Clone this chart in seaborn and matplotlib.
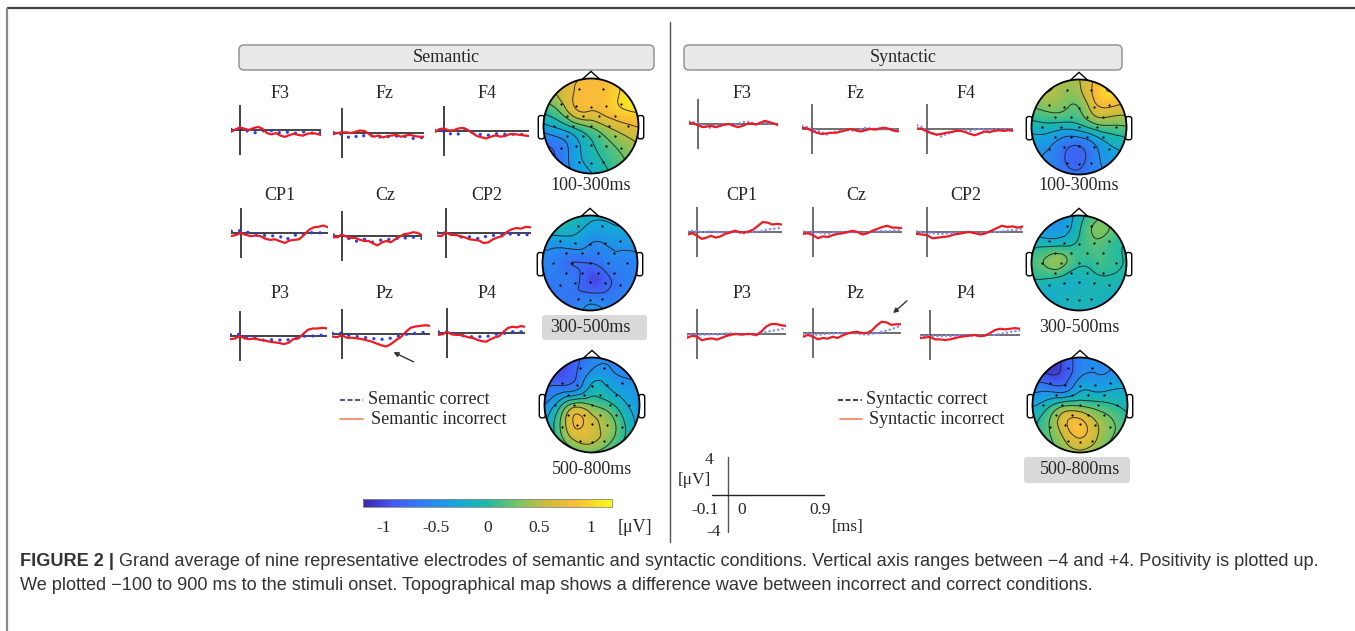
import numpy as np
import matplotlib
matplotlib.use("Agg")
import matplotlib.pyplot as plt
import matplotlib.tri as mtri
from matplotlib.colors import LinearSegmentedColormap, Normalize
from matplotlib.patches import Circle, Polygon, FancyBboxPatch
import seaborn as sns

W, H = 1355, 631
SERIF = ["Liberation Serif", "DejaVu Serif"]
SANS = ["Liberation Sans", "DejaVu Sans"]

# ---------------- data ----------------
ELECTRODES = ["F3", "Fz", "F4", "CP1", "Cz", "CP2", "P3", "Pz", "P4"]
TIME = [-0.10, -0.05, 0.00, 0.05, 0.10, 0.15, 0.20, 0.25, 0.30, 0.35, 0.40,
        0.45, 0.50, 0.55, 0.60, 0.65, 0.70, 0.75, 0.80, 0.85, 0.90]

# semantic, amplitude in uV
SEM_INCORRECT = {
    "F3":  [-0.3, 0.1, 0.4, 0.2, 0.0, 0.3, 0.5, 0.2, -0.5, -0.7, -0.5, -0.9, -1.1, -0.8, -0.6, -0.8, -0.9, -0.6, -0.5, -0.6, -0.8],
    "Fz":  [-0.2, 0.0, 0.1, 0.1, 0.0, 0.2, 0.4, 0.3, -0.2, -0.6, -0.4, -0.7, -0.5, -0.4, -0.3, -0.6, -0.4, -0.3, -0.5, -0.6, -0.6],
    "F4":  [-0.2, 0.3, 0.4, 0.1, 0.1, 0.4, 0.5, 0.2, -0.3, -0.8, -1.0, -1.2, -0.9, -0.7, -0.9, -0.8, -0.5, -0.5, -0.6, -0.7, -0.8],
    "CP1": [-0.5, -0.3, 0.0, -0.3, -0.5, -0.4, -0.5, -0.9, -1.1, -1.0, -1.3, -1.6, -1.2, -1.1, -1.0, -0.3, 0.5, 0.9, 1.0, 1.2, 0.9],
    "Cz":  [-0.2, -0.2, 0.2, -0.1, -0.3, -0.3, -0.6, -0.8, -0.8, -1.2, -1.5, -1.0, -0.8, -1.0, -0.5, -0.1, 0.3, 0.4, 0.6, 0.5, 0.1],
    "CP2": [-0.4, -0.5, 0.1, -0.3, -0.3, -0.5, -0.7, -1.0, -1.1, -1.2, -1.6, -1.5, -1.0, -0.7, -0.5, 0.2, 0.6, 0.8, 0.7, 1.0, 0.9],
    "P3":  [-0.5, -0.4, 0.0, -0.4, -0.5, -0.4, -0.6, -0.7, -0.9, -1.0, -1.1, -1.3, -1.1, -0.5, -0.4, 0.3, 1.0, 1.2, 1.2, 1.3, 1.2],
    "Pz":  [-0.4, -0.5, -0.2, -0.6, -0.6, -0.7, -0.8, -1.0, -1.2, -1.5, -1.8, -2.0, -1.6, -1.0, -0.5, 0.3, 1.0, 1.2, 1.3, 1.4, 1.3],
    "P4":  [-0.3, -0.2, 0.2, -0.2, -0.3, -0.3, -0.5, -0.7, -0.8, -1.1, -1.3, -1.4, -1.0, -0.7, -0.5, 0.2, 0.8, 1.0, 0.9, 1.1, 1.0],
}
SEM_CORRECT = {
    "F3":  [0.1, 0.3, 0.3, -0.1, -0.2, -0.5, -0.3, -0.1, -0.3, -0.1, -0.5, -0.4, -0.2, -0.5, -0.6, -0.3, -0.3, -0.4, -0.5, -0.3, -0.4],
    "Fz":  [0.1, 0.2, -0.3, -0.5, -0.9, -0.6, -0.2, -0.5, -0.3, -0.6, -0.7, -0.5, -0.6, -0.5, -0.5, -0.4, -0.6, -0.8, -0.9, -0.7, -0.8],
    "F4":  [0.1, 0.3, -0.1, -0.3, -0.7, -0.5, 0.2, 0.4, -0.2, -0.4, -0.6, -0.8, -0.5, -0.4, -0.6, -0.5, -0.6, -0.5, -0.6, -0.5, -0.6],
    "CP1": [0.3, 0.5, 0.3, 0.2, 0.0, -0.1, -0.3, -0.4, -0.3, -0.6, -0.5, -1.1, -0.8, -0.3, -0.5, -0.2, 0.0, 0.1, 0.0, 0.1, 0.0],
    "Cz":  [0.2, 0.4, 0.0, -0.2, -0.6, -0.9, -0.6, -0.5, -0.8, -1.0, -0.8, -0.6, -0.7, -0.4, -0.3, -0.5, -0.3, -0.4, -0.2, -0.3, -0.4],
    "CP2": [0.1, 0.2, 0.0, -0.2, -0.3, -0.6, -0.8, -0.6, -0.8, -0.9, -0.5, -0.7, -0.4, -0.3, -0.2, -0.1, -0.2, -0.3, -0.2, -0.3, -0.2],
    "P3":  [0.2, 0.4, 0.2, -0.1, -0.2, -0.3, -0.5, -0.7, -0.7, -0.5, -0.6, -0.8, -0.6, -0.4, -0.3, -0.1, 0.1, 0.0, 0.2, 0.1, 0.1],
    "Pz":  [0.1, 0.2, 0.1, -0.2, -0.3, -0.4, -0.5, -0.6, -0.8, -0.7, -0.9, -0.6, -0.7, -0.5, -0.2, -0.1, 0.2, 0.1, 0.2, 0.3, 0.2],
    "P4":  [0.2, 0.3, 0.2, 0.1, -0.1, -0.3, -0.5, -0.6, -0.6, -0.7, -0.5, -0.6, -0.4, -0.3, 0.0, -0.1, 0.1, 0.2, 0.3, 0.2, 0.3],
}

# syntactic, amplitude in uV
SYN_INCORRECT = {
    "F3":  [0.2, 0.1, -0.2, -0.5, -0.4, -0.3, -0.5, -0.3, -0.1, 0.0, -0.3, -0.5, -0.3, 0.0, 0.1, -0.1, 0.2, 0.5, 0.3, 0.1, -0.2],
    "Fz":  [0.2, 0.1, -0.3, -0.6, -0.8, -0.7, -0.6, -0.6, -0.4, -0.2, 0.0, -0.2, -0.4, -0.2, 0.0, -0.1, 0.1, 0.2, 0.0, -0.3, -0.4],
    "F4":  [0.1, 0.0, -0.4, -0.7, -0.9, -0.8, -0.6, -0.5, -0.3, -0.3, -0.5, -0.8, -1.0, -0.7, -0.4, -0.5, -0.3, -0.2, -0.3, -0.2, -0.3],
    "CP1": [-0.4, -0.2, -0.6, -1.1, -0.9, -0.6, -0.9, -0.7, -0.3, -0.1, 0.2, 0.0, -0.1, 0.1, 0.4, 1.0, 1.6, 1.5, 1.2, 1.3, 1.2],
    "Cz":  [-0.3, -0.2, -0.5, -1.0, -0.7, -0.8, -0.5, -0.3, -0.2, 0.0, 0.2, 0.0, -0.4, -0.2, 0.2, 0.5, 0.8, 1.0, 0.7, 0.7, 0.6],
    "CP2": [-0.3, -0.4, -0.5, -1.0, -0.9, -0.8, -0.7, -0.4, -0.3, -0.1, 0.0, -0.2, -0.4, -0.2, 0.2, 0.6, 1.0, 0.8, 0.9, 0.7, 0.9],
    "P3":  [-0.6, -0.3, -0.4, -1.0, -0.8, -0.7, -0.9, -0.6, -0.3, -0.1, 0.0, -0.1, 0.0, 0.0, -0.2, 0.4, 1.2, 1.6, 1.6, 1.4, 1.3],
    "Pz":  [-0.6, -0.3, -0.6, -1.0, -0.8, -0.9, -0.6, -0.8, -0.4, -0.1, 0.1, 0.2, 0.0, 0.0, 0.4, 1.2, 1.8, 1.7, 1.3, 1.4, 1.4],
    "P4":  [-0.5, -0.4, -0.3, -0.7, -0.7, -0.8, -0.7, -0.5, -0.3, -0.2, -0.1, 0.0, -0.2, -0.1, 0.3, 0.8, 1.0, 0.9, 1.0, 1.1, 1.0],
}
SYN_CORRECT = {
    "F3":  [0.4, 0.3, 0.0, -0.2, -0.5, -0.6, -0.3, -0.1, 0.0, -0.1, -0.1, 0.0, 0.3, 0.4, 0.2, 0.0, 0.1, 0.2, 0.1, 0.0, -0.1],
    "Fz":  [0.5, 0.3, 0.0, -0.3, -0.5, -0.9, -0.6, -0.4, -0.3, -0.1, -0.2, -0.3, 0.0, 0.2, 0.1, 0.0, -0.1, 0.0, -0.2, -0.1, -0.2],
    "F4":  [0.6, 0.3, -0.2, -0.6, -0.9, -1.2, -0.8, -0.6, -0.4, -0.2, -0.1, -0.3, -0.1, 0.0, -0.1, -0.2, 0.0, -0.1, 0.0, -0.1, 0.0],
    "CP1": [0.1, 0.2, 0.1, 0.0, 0.0, 0.1, 0.0, -0.1, 0.0, 0.1, 0.0, -0.1, -0.2, -0.1, 0.0, 0.1, 0.2, 0.4, 0.5, 0.6, 0.7],
    "Cz":  [0.1, 0.0, 0.0, -0.1, -0.2, -0.3, -0.1, 0.0, 0.0, -0.1, 0.0, -0.1, -0.2, -0.1, 0.0, 0.1, 0.2, 0.1, 0.2, 0.3, 0.2],
    "CP2": [0.1, 0.0, -0.1, -0.2, -0.3, -0.3, -0.2, -0.1, -0.2, -0.1, 0.0, -0.1, -0.2, -0.1, 0.0, 0.0, 0.1, 0.2, 0.3, 0.4, 0.5],
    "P3":  [-0.2, -0.1, -0.1, -0.1, -0.1, 0.0, -0.1, 0.0, 0.1, 0.1, 0.0, -0.1, 0.0, -0.1, 0.0, 0.2, 0.3, 0.5, 0.6, 0.8, 0.9],
    "Pz":  [-0.2, -0.1, -0.2, -0.3, -0.2, -0.1, -0.1, 0.0, -0.1, 0.0, 0.0, -0.1, -0.2, -0.3, -0.1, 0.0, 0.2, 0.4, 0.6, 0.9, 1.2],
    "P4":  [-0.1, -0.2, -0.1, -0.2, -0.2, -0.1, -0.2, -0.1, 0.0, 0.0, -0.1, -0.1, -0.1, 0.0, 0.1, 0.0, 0.2, 0.3, 0.5, 0.6, 0.7],
}

# topographies: difference wave in uV, read on rings (centre, r=.4 x8, r=.75 x12, rim x12),
# each ring listed clockwise starting at the nose
TOPO_WINDOWS = ["100-300ms", "300-500ms", "500-800ms"]
SEM_TOPO_1 = [[0.3],
              [0.8, 0.8, 0.55, 0.2, -0.05, -0.25, 0.05, 0.7],
              [0.85, 0.9, 1.0, 0.7, 0.35, 0.1, -0.15, -0.4, -0.6, -0.2, 0.35, 0.75],
              [0.8, 0.95, 1.1, 0.8, 0.4, 0.1, -0.3, -0.6, -0.8, -0.35, 0.3, 0.65]]
SEM_TOPO_2 = [[-0.75],
              [-0.5, -0.55, -0.6, -0.85, -0.95, -0.7, -0.75, -0.5],
              [-0.3, -0.35, -0.45, -0.6, -0.65, -0.7, -0.6, -0.7, -0.65, -0.6, -0.45, -0.2],
              [-0.15, -0.2, -0.35, -0.55, -0.6, -0.55, -0.45, -0.65, -0.7, -0.6, -0.3, 0.0]]
SEM_TOPO_3 = [[0.25],
              [-0.2, -0.15, 0.05, 0.4, 0.6, 0.8, 0.35, -0.4],
              [-0.5, -0.45, -0.4, -0.25, 0.05, 0.35, 0.55, 0.6, 0.3, -0.2, -0.7, -0.8],
              [-0.6, -0.55, -0.5, -0.45, -0.25, 0.0, 0.15, 0.1, -0.2, -0.55, -0.85, -0.95]]
SYN_TOPO_1 = [[-0.1],
              [0.25, 0.5, 0.15, -0.45, -0.75, -0.6, -0.15, 0.2],
              [0.45, 0.85, 0.7, 0.2, -0.25, -0.55, -0.8, -0.7, -0.45, -0.1, 0.3, 0.4],
              [0.5, 0.95, 0.8, 0.25, -0.25, -0.5, -0.65, -0.6, -0.45, -0.15, 0.35, 0.5]]
SYN_TOPO_2 = [[0.05],
              [0.05, 0.15, 0.1, -0.05, -0.15, -0.05, 0.35, 0.1],
              [-0.05, 0.3, 0.1, 0.05, -0.05, -0.1, -0.1, -0.15, -0.05, 0.25, -0.05, -0.35],
              [-0.15, 0.25, 0.05, -0.05, -0.15, -0.2, -0.15, -0.2, -0.1, 0.05, -0.2, -0.45]]
SYN_TOPO_3 = [[0.2],
              [-0.35, -0.25, 0.1, 0.5, 0.85, 0.7, 0.15, -0.5],
              [-0.6, -0.5, -0.3, 0.0, 0.3, 0.5, 0.7, 0.5, 0.25, -0.15, -0.65, -0.95],
              [-0.6, -0.5, -0.35, -0.1, 0.1, 0.25, 0.35, 0.25, 0.0, -0.3, -0.8, -1.05]]

# electrode sites shown as dots on the maps
SITE_X = [-0.3, 0.3, -0.75, -0.38, 0.0, 0.38, 0.75, -0.6, -0.2, 0.2, 0.6, -0.92, -0.45, 0.0,
          0.45, 0.92, -0.6, -0.2, 0.2, 0.6, -0.75, -0.38, 0.0, 0.38, 0.75, -0.3, 0.0, 0.3]
SITE_Y = [0.92, 0.92, 0.55, 0.5, 0.48, 0.5, 0.55, 0.25, 0.25, 0.25, 0.25, 0.0, 0.0, 0.0,
          0.0, 0.0, -0.25, -0.25, -0.25, -0.25, -0.55, -0.5, -0.48, -0.5, -0.55, -0.88, -0.92, -0.88]

CB_TICKS = [-1, -0.5, 0, 0.5, 1]
CB_LABELS = ["-1", "-0.5", "0", "0.5", "1"]

# parula-like colour map
PARULA = LinearSegmentedColormap.from_list("parula", [
    (0.00, "#3e26a8"), (0.12, "#4358f5"), (0.25, "#2c82f2"), (0.38, "#14a8db"),
    (0.50, "#1fbaa5"), (0.62, "#74c466"), (0.74, "#d0bc3c"), (0.85, "#f9bb3a"),
    (1.00, "#f9fb15")])
NORM = Normalize(-1.2, 1.2)
LEVELS = [-1.0, -0.75, -0.5, -0.25, 0.0, 0.25, 0.5, 0.75, 1.0]

# ---------------- layout (pixels) ----------------
# (x of time-zero line, y of baseline, px per second)
SEM_POS = [(240, 130, 90), (342, 133, 91), (444, 131, 94),
           (241, 233, 97), (342, 236, 89), (446, 233, 94),
           (240, 336, 97), (342, 334, 98), (447, 333, 87)]
SYN_POS = [(698, 124, 89), (812, 129, 97), (927, 129, 96),
           (697, 232, 94), (813, 232, 99), (927, 232, 107),
           (697, 334, 99), (813, 333, 98), (930, 335, 100)]
SEM_TITLE_X = [280, 385, 487]
SYN_TITLE_X = [742, 856, 966]
TITLE_Y = [93, 195, 293]

sns.set_theme(style="white")
plt.rcParams["font.family"] = SERIF

fig = plt.figure(figsize=(W / 100, H / 100), dpi=100)


def px_box(x, y, w, h):
    return [x / W, 1 - (y + h) / H, w / W, h / H]


bg = fig.add_axes([0, 0, 1, 1])
bg.set_xlim(0, W)
bg.set_ylim(H, 0)
bg.axis("off")

# frame + divider
bg.plot([7, W], [8, 8], color="#444444", lw=1.6, solid_capstyle="butt")
bg.plot([7, 7], [8, H], color="#8a8a8a", lw=1.6, solid_capstyle="butt")
bg.plot([670, 670], [22, 542], color="#555555", lw=1.0)

# headers
for x0, x1, label in [(239, 654, "Semantic"), (684, 1122, "Syntactic")]:
    bg.add_patch(FancyBboxPatch((x0, 45), x1 - x0, 25, boxstyle="round,pad=0,rounding_size=5",
                                fc="#e9e9e9", ec="#8c8c8c", lw=1.0))
    bg.text((x0 + x1) / 2, 58, label, ha="center", va="center", fontsize=13, family=SERIF)


def draw_erp(pos, red, blue, blue_col, lw_dot, gap, ax_col):
    vx, hy, k = pos
    ax = fig.add_axes(px_box(vx - 0.1 * k, hy - 25, k, 50))
    ax.set_xlim(-0.1, 0.9)
    ax.set_ylim(-4, 4)
    ax.axis("off")
    sns.lineplot(x=TIME, y=blue, color=blue_col, lw=lw_dot, linestyle=(0, (0.05, gap)),
                 dash_capstyle="round", ax=ax)
    sns.lineplot(x=TIME, y=red, color="#ec1c24", lw=1.6, ax=ax)
    ax.axhline(0, color=ax_col, lw=1.2, zorder=1)
    ax.axvline(0, color=ax_col, lw=1.2, zorder=1)


for i, name in enumerate(ELECTRODES):
    draw_erp(SEM_POS[i], SEM_INCORRECT[name], SEM_CORRECT[name], "#2a3cf0", 2.3, 2.6, "#222222")
    draw_erp(SYN_POS[i], SYN_INCORRECT[name], SYN_CORRECT[name], "#7f8cff", 1.8, 1.7, "#555555")
    bg.text(SEM_TITLE_X[i % 3], TITLE_Y[i // 3], name, ha="center", va="center", fontsize=13)
    bg.text(SYN_TITLE_X[i % 3], TITLE_Y[i // 3], name, ha="center", va="center", fontsize=13)

RING_RADII = [0.0, 0.4, 0.75, 1.06]


def draw_topo(cx, cy, rings):
    r_px = 47.5
    size = r_px * 2.6
    ax = fig.add_axes(px_box(cx - size / 2, cy - size / 2, size, size))
    ax.set_xlim(-1.3, 1.3)
    ax.set_ylim(-1.3, 1.3)
    ax.set_aspect("equal")
    ax.axis("off")
    xs, ys, zs = [], [], []
    for r, vals in zip(RING_RADII, rings):
        ang = np.deg2rad(90 - 360.0 / len(vals) * np.arange(len(vals)))
        xs += list(r * np.cos(ang))
        ys += list(r * np.sin(ang))
        zs += list(vals)
    tri = mtri.Triangulation(np.array(xs), np.array(ys))
    tri_f, z_f = mtri.UniformTriRefiner(tri).refine_field(np.array(zs), subdiv=4)
    # nose and ears
    ax.add_patch(Polygon([(-0.2, 0.97), (0, 1.15), (0.2, 0.97)], closed=True,
                         fc="white", ec="black", lw=1.0, zorder=0))
    for sx in (-1, 1):
        ax.add_patch(FancyBboxPatch((sx * 1.045 - 0.045, -0.25), 0.09, 0.45,
                                    boxstyle="round,pad=0.02,rounding_size=0.05",
                                    fc="white", ec="black", lw=1.0, zorder=0))
    clip = Circle((0, 0), 1.0, transform=ax.transData)
    pc = ax.tripcolor(tri_f, z_f, cmap=PARULA, norm=NORM, shading="gouraud", zorder=1)
    pc.set_clip_path(clip)
    cs = ax.tricontour(tri_f, z_f, levels=LEVELS, colors="#1a1a1a", linewidths=0.7,
                       linestyles="solid", alpha=0.85, zorder=2)
    cs.set_clip_path(clip)
    ax.scatter(np.array(SITE_X) * 0.85, np.array(SITE_Y) * 0.85, s=2.5, c="black",
               linewidths=0, zorder=3)
    ax.add_patch(Circle((0, 0), 1.0, fill=False, ec="black", lw=1.3, zorder=4))


SEM_TOPOS = [SEM_TOPO_1, SEM_TOPO_2, SEM_TOPO_3]
SYN_TOPOS = [SYN_TOPO_1, SYN_TOPO_2, SYN_TOPO_3]
SEM_TOPO_C = [(591, 126), (590, 263), (592, 405)]
SYN_TOPO_C = [(1079, 127), (1079, 263), (1080, 405)]
SEM_LABEL_Y = [186, 327, 470]
SYN_LABEL_Y = [186, 328, 470]

for i in range(3):
    draw_topo(*SEM_TOPO_C[i], SEM_TOPOS[i])
    draw_topo(*SYN_TOPO_C[i], SYN_TOPOS[i])

# window labels (some on grey tabs)
bg.add_patch(FancyBboxPatch((542, 315), 105, 25, boxstyle="round,pad=0,rounding_size=3",
                            fc="#d9d9d9", ec="none"))
bg.add_patch(FancyBboxPatch((1024, 457), 106, 26, boxstyle="round,pad=0,rounding_size=3",
                            fc="#d9d9d9", ec="none"))
for i, lab in enumerate(TOPO_WINDOWS):
    bg.text(SEM_TOPO_C[i][0], SEM_LABEL_Y[i], lab, ha="center", va="center", fontsize=13)
    bg.text(SYN_TOPO_C[i][0], SYN_LABEL_Y[i], lab, ha="center", va="center", fontsize=13)

# legends
bg.plot([340, 363], [400, 400], color="#2b3a8f", lw=1.2, linestyle=(0, (3, 1.5)))
bg.plot([340, 363], [419, 419], color="#f4845f", lw=1.2)
bg.text(368, 400, "Semantic correct", va="center", fontsize=13)
bg.text(371, 420, "Semantic incorrect", va="center", fontsize=13)
bg.plot([838, 862], [400, 400], color="#222222", lw=1.2, linestyle=(0, (3, 1.5)))
bg.plot([840, 862], [419, 419], color="#f4845f", lw=1.2)
bg.text(866, 400, "Syntactic correct", va="center", fontsize=13)
bg.text(869, 420, "Syntactic incorrect", va="center", fontsize=13)

# arrows pointing at the effects
bg.annotate("", xy=(391, 351), xytext=(416, 363),
            arrowprops=dict(arrowstyle="-|>", color="#333333", lw=1.0, mutation_scale=7))
bg.annotate("", xy=(891, 315), xytext=(909, 299),
            arrowprops=dict(arrowstyle="-|>", color="#333333", lw=1.0, mutation_scale=7))

# colour bar
cax = fig.add_axes(px_box(363, 499, 249, 8))
sm = plt.cm.ScalarMappable(norm=NORM, cmap=PARULA)
cb = fig.colorbar(sm, cax=cax, orientation="horizontal", ticks=CB_TICKS)
cb.ax.set_xticklabels(CB_LABELS, fontsize=12.5, family=SERIF)
cb.ax.tick_params(direction="in", length=2, width=0.6, pad=9, color="#666666")
cb.outline.set_linewidth(0.6)
cb.outline.set_edgecolor("#888888")
bg.text(635, 527, "[μV]", ha="center", va="center", fontsize=13)

# scale axes
bg.plot([728, 728], [457, 532], color="#555555", lw=1.0)
bg.plot([712, 824], [495, 495], color="#222222", lw=1.0)
bg.text(709, 460, "4", ha="center", va="center", fontsize=12.5)
bg.text(694, 480, "[μV]", ha="center", va="center", fontsize=12.5)
bg.text(705, 510, "-0.1", ha="center", va="center", fontsize=12.5)
bg.text(742, 510, "0", ha="center", va="center", fontsize=12.5)
bg.text(820, 510, "0.9", ha="center", va="center", fontsize=12.5)
bg.text(714, 532, "-4", ha="center", va="center", fontsize=12.5)
bg.text(848, 527, "[ms]", ha="center", va="center", fontsize=12.5)

# caption
renderer = fig.canvas.get_renderer()
CAP1 = [("FIGURE 2 |", "bold"),
        (" Grand average of nine representative electrodes of semantic and syntactic conditions. "
         "Vertical axis ranges between \u22124 and +4. Positivity is plotted up.", "normal")]
CAP2 = [("We plotted \u2212100 to 900 ms to the stimuli onset. Topographical map shows a difference "
         "wave between incorrect and correct conditions.", "normal")]


def text_width(parts, fs):
    total = 0
    for txt, wt in parts:
        t = fig.text(0, 0, txt, fontsize=fs, fontweight=wt, family=SANS)
        total += t.get_window_extent(renderer).width
        t.remove()
    return total


fs_cap = 10 * 1305 / text_width(CAP1, 10)


def caption_line(y, parts):
    x = 20
    for txt, wt in parts:
        t = bg.text(x, y, txt, fontsize=fs_cap, fontweight=wt, family=SANS, color="#333333",
                    va="center", ha="left")
        x += t.get_window_extent(renderer).width


caption_line(561, CAP1)
caption_line(586, CAP2)

fig.savefig("out.png", dpi=100)
